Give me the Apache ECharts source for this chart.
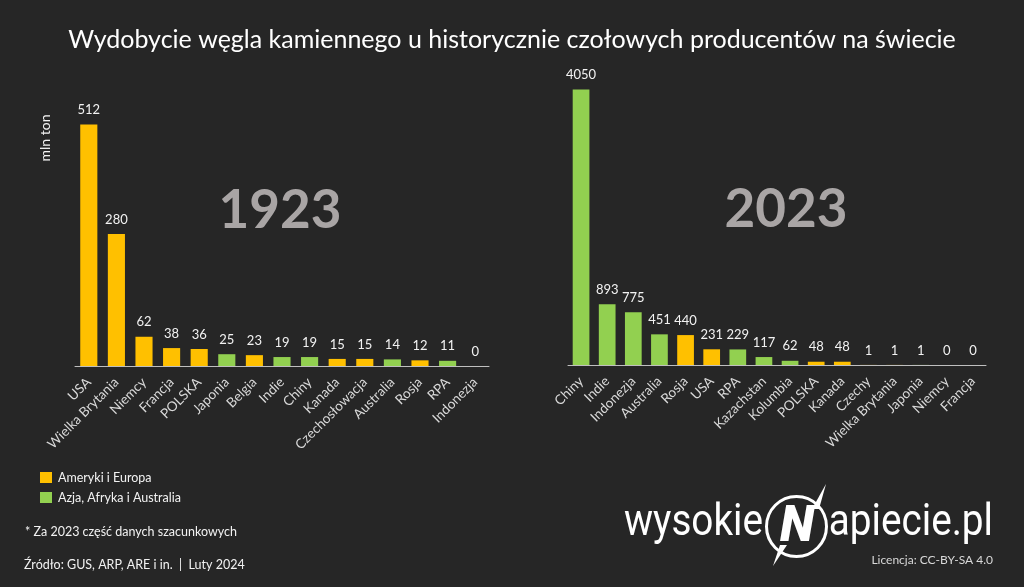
<!DOCTYPE html>
<html><head><meta charset="utf-8">
<script src="https://cdn.jsdelivr.net/npm/echarts@6/dist/echarts.min.js"></script>
<style>html,body{margin:0;padding:0;background:#262626;}#c{width:1024px;height:587px;}</style>
</head><body><div id="c"></div>
<script>
const categories1923 = ['USA','Wielka Brytania','Niemcy','Francja','POLSKA','Japonia','Belgia','Indie','Chiny','Kanada','Czechosłowacja','Australia','Rosja','RPA','Indonezja'];
const values1923 = [512,280,62,38,36,25,23,19,19,15,15,14,12,11,0];
const regions1923 = ['AE','AE','AE','AE','AE','AAA','AE','AAA','AAA','AE','AE','AAA','AE','AAA','AAA'];

const categories2023 = ['Chiny','Indie','Indonezja','Australia','Rosja','USA','RPA','Kazachstan','Kolumbia','POLSKA','Kanada','Czechy','Wielka Brytania','Japonia','Niemcy','Francja'];
const values2023 = [4050,893,775,451,440,231,229,117,62,48,48,1,1,1,0,0];
const regions2023 = ['AAA','AAA','AAA','AAA','AE','AE','AAA','AAA','AAA','AE','AE','AE','AE','AAA','AE','AE'];

const legendNames = {AE:'Ameryki i Europa', AAA:'Azja, Afryka i Australia'};
const COLORS = {AE:'#FFC000', AAA:'#92D050'};
const FONT = 'Lato, "Open Sans", sans-serif';

function mkData(vals, regs){ return vals.map((v,i)=>({value:v, itemStyle:{color:COLORS[regs[i]]}})); }

const chart = echarts.init(document.getElementById('c'));
const xAxisBase = {
  type:'category', axisTick:{show:false},
  axisLine:{lineStyle:{color:'#bfbfbf', width:1}},
  axisLabel:{interval:0, rotate:45, color:'#d9d9d9', fontFamily:FONT, fontSize:13.5, margin:14}
};
const yAxisBase = {type:'value', min:0, show:false, splitLine:{show:false}};
const labelBase = {show:true, position:'top', distance:8, color:'#f2f2f2', fontFamily:FONT, fontSize:13};

function txt(x,y,text,size,opts){
  return {type:'text', x:x, y:y, style:Object.assign({text:text, fill:'#f2f2f2', fontFamily:FONT, fontSize:size, verticalAlign:'middle'}, opts||{})};
}

chart.setOption({
  backgroundColor:'#262626',
  animation:false,
  title:{text:'Wydobycie węgla kamiennego u historycznie czołowych producentów na świecie', left:'center', top:22,
    textStyle:{color:'#ffffff', fontFamily:FONT, fontSize:25, fontWeight:'normal'}},
  grid:[
    {left:75, width:414, top:83, bottom:221},
    {left:568, width:418, top:59, bottom:222}
  ],
  xAxis:[
    Object.assign({}, xAxisBase, {gridIndex:0, data:categories1923}),
    Object.assign({}, xAxisBase, {gridIndex:1, data:categories2023})
  ],
  yAxis:[
    Object.assign({}, yAxisBase, {gridIndex:0, max:600}),
    Object.assign({}, yAxisBase, {gridIndex:1, max:4500})
  ],
  series:[
    {type:'bar', xAxisIndex:0, yAxisIndex:0, barWidth:'62%', data:mkData(values1923, regions1923), label:labelBase},
    {type:'bar', xAxisIndex:1, yAxisIndex:1, barWidth:'64%', data:mkData(values2023, regions2023), label:labelBase}
  ],
  graphic:[
    {type:'text', x:280, y:211, style:{text:'1923', fill:'#a9a5a5', fontFamily:FONT, fontWeight:'bold', fontSize:53, align:'center', verticalAlign:'middle'}},
    {type:'text', x:786, y:210, style:{text:'2023', fill:'#a9a5a5', fontFamily:FONT, fontWeight:'bold', fontSize:53, align:'center', verticalAlign:'middle'}},
    {type:'text', x:45, y:138, rotation:Math.PI/2, style:{text:'mln ton', fill:'#f2f2f2', fontFamily:FONT, fontSize:14, align:'center', verticalAlign:'middle'}},
    {type:'rect', shape:{x:40, y:472, width:12, height:11}, style:{fill:COLORS.AE}},
    txt(58, 477.5, legendNames.AE, 12.5),
    {type:'rect', shape:{x:40, y:492, width:12, height:11}, style:{fill:COLORS.AAA}},
    txt(58, 497.5, legendNames.AAA, 12.5),
    txt(25, 532, '* Za 2023 część danych szacunkowych', 12.5),
    txt(24, 565, 'Źródło: GUS, ARP, ARE i in.  |  Luty 2024', 12.5),
    {type:'text', x:624, y:524, scaleX:0.86, style:{text:'wysokie', fill:'#ffffff', fontFamily:'Roboto', fontWeight:'normal', fontSize:45, verticalAlign:'middle'}},
    {type:'circle', shape:{cx:796.5, cy:526.5, r:30}, style:{fill:'none', stroke:'#ffffff', lineWidth:3}},
    {type:'text', x:797, y:528, style:{text:'N', fill:'#ffffff', fontFamily:'Roboto', fontStyle:'italic', fontWeight:900, fontSize:50, align:'center', verticalAlign:'middle'}},
    {type:'polygon', shape:{points:[[826,484],[819,509],[812,509]]}, style:{fill:'#ffffff'}},
    {type:'polygon', shape:{points:[[780,545],[787,545],[773,566]]}, style:{fill:'#ffffff'}},
    {type:'text', x:993, y:524, scaleX:0.86, style:{text:'apiecie.pl', fill:'#ffffff', fontFamily:'Roboto', fontWeight:'normal', fontSize:45, align:'right', verticalAlign:'middle'}},
    txt(993, 560, 'Licencja: CC-BY-SA 4.0', 12, {fill:'#d9d9d9', align:'right'})
  ]
});
</script></body></html>
